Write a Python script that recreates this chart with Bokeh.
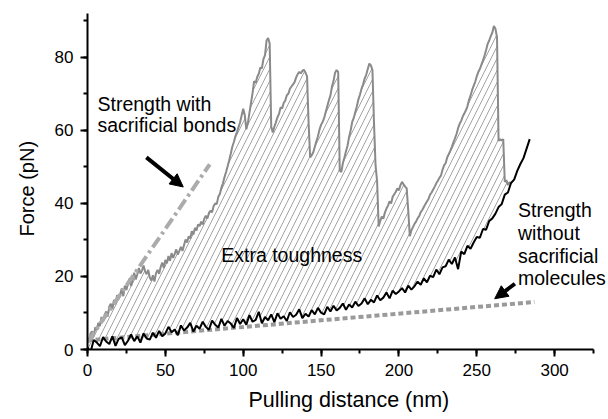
from bokeh.plotting import figure
from bokeh.models import Range1d, SingleIntervalTicker, Label, Arrow, NormalHead, Title
from bokeh.embed import file_html
from bokeh.resources import INLINE

# ---- data ----
# Gray trace: force curve with sacrificial bonds (sawtooth)
gray_x = [0, 1, 2, 3, 4, 5, 6, 7, 8, 9, 10, 11, 12, 13, 14, 15, 16, 17, 18, 19,
          20, 21, 22, 23, 24, 25, 26, 27, 28, 29, 30, 31, 32, 33, 34, 35, 36, 37, 38, 39,
          40, 41, 42, 43, 44, 45, 46, 47, 48, 49, 50, 51, 52, 53, 54, 55, 56, 57, 58, 59,
          60, 61, 62, 63, 64, 65, 66, 67, 68, 69, 70, 71, 72, 73, 74, 75, 76, 77, 78, 79,
          80, 81, 82, 83, 84, 85, 86, 87, 88, 89, 90, 91, 92, 93, 94, 95, 96, 97, 98, 99,
          100, 101, 102, 103, 104, 105, 106, 107, 108, 109, 110, 111, 112, 113, 114, 115, 116, 117, 118, 119,
          120, 121, 122, 123, 124, 125, 126, 127, 128, 129, 130, 131, 132, 133, 134, 135, 136, 137, 138, 139,
          140, 141, 142, 143, 144, 145, 146, 147, 148, 149, 150, 151, 152, 153, 154, 155, 156, 157, 158, 159,
          160, 161, 162, 163, 164, 165, 166, 167, 168, 169, 170, 171, 172, 173, 174, 175, 176, 177, 178, 179,
          180, 181, 182, 183, 184, 185, 186, 187, 188, 189, 190, 191, 192, 193, 194, 195, 196, 197, 198, 199,
          200, 201, 202, 203, 204, 205, 206, 207, 208, 209, 210, 211, 212, 213, 214, 215, 216, 217, 218, 219,
          220, 221, 222, 223, 224, 225, 226, 227, 228, 229, 230, 231, 232, 233, 234, 235, 236, 237, 238, 239,
          240, 241, 242, 243, 244, 245, 246, 247, 248, 249, 250, 251, 252, 253, 254, 255, 256, 257, 258, 259,
          260, 261, 262, 263, 264, 265, 266, 267, 268, 269, 270, 271, 272]
gray_y = [3.0, 2.1, 4.4, 5.0, 3.6, 6.1, 5.4, 7.3, 6.4, 8.9, 7.6, 9.5, 10.4, 9.0, 11.8, 12.5, 11.1, 13.6, 12.4, 14.9,
          13.8, 15.2, 16.7, 14.6, 17.5, 16.3, 18.2, 19.4, 17.4, 19.0, 21.0, 19.2, 20.6, 22.3, 20.8, 21.6, 23.0, 21.4, 20.6, 21.8,
          19.7, 18.9, 20.3, 18.6, 20.9, 21.8, 20.7, 22.6, 23.8, 22.3, 24.5, 23.6, 25.6, 24.3, 26.4, 25.1, 26.2, 27.4, 26.0, 27.0,
          28.1, 27.0, 28.6, 30.1, 29.3, 31.0, 30.4, 32.4, 31.5, 33.3, 32.6, 34.2, 33.8, 35.0, 34.2, 35.8, 36.6, 35.9, 37.4, 38.0,
          37.6, 39.3, 40.0, 39.8, 41.8, 42.6, 44.3, 45.5, 47.2, 48.6, 50.2, 51.8, 53.6, 55.5, 56.8, 58.4, 59.6, 60.9, 62.2, 64.1,
          65.9, 64.2, 60.3, 62.0, 64.8, 67.5, 70.2, 73.5, 73.0, 74.6, 75.5, 77.2, 77.0, 79.5, 80.6, 84.6, 85.3, 83.8, 61.0, 59.4,
          61.0, 62.2, 63.6, 64.5, 66.3, 66.0, 67.5, 68.2, 69.6, 70.0, 71.4, 72.0, 72.6, 73.2, 74.5, 75.4, 76.0, 75.6, 76.3, 76.6,
          75.8, 74.8, 62.0, 52.6, 53.2, 54.0, 55.5, 57.0, 58.4, 60.2, 61.5, 62.3, 63.4, 65.0, 66.6, 68.2, 69.5, 72.0, 73.5, 75.8,
          76.5, 76.0, 49.0, 48.6, 51.0, 52.6, 54.3, 55.8, 58.2, 60.0, 62.3, 63.4, 65.0, 66.6, 68.5, 69.8, 71.4, 72.6, 74.2, 75.2,
          76.8, 78.3, 77.8, 76.5, 62.0, 50.4, 46.0, 33.7, 35.2, 36.4, 35.8, 37.5, 38.6, 39.4, 40.6, 40.0, 41.8, 42.5, 43.2, 44.1,
          43.6, 45.0, 45.9, 45.2, 44.6, 44.1, 38.0, 31.0, 32.6, 33.5, 34.4, 35.0, 35.9, 36.5, 37.6, 38.2, 39.0, 39.8, 40.5, 41.2,
          42.4, 43.0, 43.8, 44.6, 45.5, 46.2, 47.0, 47.6, 49.2, 50.4, 51.0, 52.6, 53.5, 54.4, 55.5, 56.7, 57.8, 59.0, 60.6, 61.8,
          62.6, 63.8, 64.6, 65.5, 66.6, 68.3, 69.5, 71.0, 72.2, 73.3, 74.8, 76.0, 76.8, 78.0, 79.2, 80.5, 82.0, 83.7, 84.6, 85.8,
          86.8, 88.6, 87.8, 85.5, 57.1, 57.6, 57.2, 57.6, 45.9, 46.4, 45.0, 45.8, 45.4]

# Black trace: force curve without sacrificial molecules
black_x = [0, 2, 4, 6, 8, 10, 12, 14, 16, 18, 20, 22, 24, 26, 28, 30, 32, 34, 36, 38,
           40, 42, 44, 46, 48, 50, 52, 54, 56, 58, 60, 62, 64, 66, 68, 70, 72, 74, 76, 78,
           80, 82, 84, 86, 88, 90, 92, 94, 96, 98, 100, 102, 104, 106, 108, 110, 112, 114, 116, 118,
           120, 122, 124, 126, 128, 130, 132, 134, 136, 138, 140, 142, 144, 146, 148, 150, 152, 154, 156, 158,
           160, 162, 164, 166, 168, 170, 172, 174, 176, 178, 180, 182, 184, 186, 188, 190, 192, 194, 196, 198,
           200, 202, 204, 206, 208, 210, 212, 214, 216, 218, 220, 222, 224, 226, 228, 230, 232, 234, 236, 238,
           240, 242, 244, 246, 248, 250, 252, 254, 256, 258, 260, 262, 264, 266, 268, 270, 272, 274, 276, 278,
           280, 282, 284]
black_y = [0.5, -0.6, 2.6, 1.9, 0.9, 3.4, 2.2, 1.5, 3.6, 1.0, 2.9, 3.3, 1.2, 2.4, 4.1, 2.3, 3.6, 1.9, 4.4, 3.0,
           2.7, 4.6, 3.2, 5.1, 3.6, 4.4, 6.2, 4.7, 5.5, 3.9, 6.6, 5.2, 6.0, 7.3, 4.9, 6.5, 5.7, 7.6, 6.2, 5.4,
           7.9, 6.8, 6.0, 8.4, 6.5, 7.8, 7.1, 5.9, 8.6, 7.0, 8.3, 6.8, 9.4, 7.6, 8.1, 10.3, 7.2, 8.9, 8.0, 9.6,
           7.5, 9.9, 8.4, 9.1, 7.8, 10.2, 8.9, 9.5, 11.0, 8.6, 9.8, 9.0, 10.8, 9.6, 11.4, 10.1, 9.6, 11.7, 10.4, 12.0,
           10.7, 11.4, 12.6, 10.9, 12.3, 11.5, 13.1, 11.9, 12.6, 14.0, 12.4, 13.6, 12.9, 14.8, 13.5, 14.2, 15.6, 14.0, 16.1, 15.2,
           15.9, 16.8, 15.6, 17.5, 16.4, 17.3, 18.6, 17.7, 19.5, 18.4, 20.2, 19.8, 21.9, 20.6, 22.5, 22.8, 24.6, 23.4, 25.2, 22.0,
           26.8, 26.1, 28.4, 27.6, 29.3, 30.8, 30.6, 33.0, 32.8, 35.2, 35.9, 37.2, 39.0, 39.8, 42.4, 43.0, 45.6, 46.5, 48.9, 50.8,
           52.4, 55.0, 57.6]

# Guide lines
with_bonds_x = [0, 78.5]      # dash-dot line "Strength with sacrificial bonds"
with_bonds_y = [2.0, 50.7]
without_x = [0, 287]          # dotted line "Strength without sacrificial molecules"
without_y = [2.5, 13.0]

x_ticks_interval = 50
y_ticks_interval = 20

FONT = "Liberation Sans"

p = figure(width=608, height=419, output_backend="svg", toolbar_location=None,
           x_range=Range1d(0, 334.6), y_range=Range1d(0, 92),
           min_border_left=86, min_border_right=0, min_border_top=13, min_border_bottom=66)
p.grid.visible = False
p.outline_line_color = None
p.background_fill_color = "white"

for ax in (p.xaxis[0], p.yaxis[0]):
    ax.axis_line_width = 2
    ax.axis_line_color = "black"
    ax.major_tick_line_width = 2
    ax.major_tick_line_color = "black"
    ax.minor_tick_line_width = 2
    ax.minor_tick_line_color = "black"
    ax.major_tick_in = 0
    ax.major_tick_out = 7
    ax.minor_tick_in = 0
    ax.minor_tick_out = 4
    ax.major_label_text_font = FONT
    ax.major_label_text_font_size = "17px"
    ax.major_label_text_color = "black"
    ax.major_label_standoff = 7
p.xaxis.ticker = SingleIntervalTicker(interval=x_ticks_interval, num_minor_ticks=2)
p.yaxis.ticker = SingleIntervalTicker(interval=y_ticks_interval, num_minor_ticks=2)
p.xaxis.bounds = (0, 325)

# axis titles
p.add_layout(Title(text="Pulling distance (nm)", align="left", offset=161, standoff=15,
                   text_font=FONT, text_font_size="21.5px", text_font_style="normal",
                   text_color="black"), "below")
p.add_layout(Title(text="Force (pN)", align="left", offset=113, standoff=27,
                   text_font=FONT, text_font_size="20px", text_font_style="normal",
                   text_color="black"), "left")

# hatched area between curves
bx_rev = [x for x in black_x if x <= gray_x[-1]][::-1]
by_rev = [y for x, y in zip(black_x, black_y) if x <= gray_x[-1]][::-1]
p.patch(gray_x + bx_rev, gray_y + by_rev, fill_color="white", fill_alpha=0.0,
        line_color=None, hatch_pattern="/", hatch_color="#a2a2a2",
        hatch_scale=12, hatch_weight=1)

p.line(without_x, without_y, line_color="#9a9a9a", line_width=4, line_dash="5 3")
p.line(gray_x, gray_y, line_color="#8a8a8a", line_width=2)
p.line(with_bonds_x, with_bonds_y, line_color="#ababab", line_width=4, line_dash="12 4 3 4")
p.line(black_x, black_y, line_color="black", line_width=2)

# arrows
p.add_layout(Arrow(x_start=37.8, y_start=52.6, x_end=61.5, y_end=44.5, line_width=4,
                   line_color="black",
                   end=NormalHead(size=13, fill_color="black", line_color="black", line_width=1)))
p.add_layout(Arrow(x_start=274.5, y_start=18.0, x_end=261.5, y_end=13.9, line_width=4,
                   line_color="black",
                   end=NormalHead(size=13, fill_color="black", line_color="black", line_width=1)))

def lab(x, y, t, size="19.5px", align="left"):
    p.add_layout(Label(x=x, y=y, text=t, text_font=FONT, text_font_size=size,
                       text_color="black", text_align=align, text_baseline="alphabetic"))

lab(6.4, 67.3, "Strength with")
lab(6.4, 61.4, "sacrificial bonds")
lab(85.9, 26.0, "Extra toughness")
lab(276.5, 38.1, "Strength")
lab(276.5, 31.9, "without")
lab(276.5, 25.7, "sacrificial")
lab(276.5, 19.5, "molecules")

open("out.html", "w").write(file_html(p, INLINE))
